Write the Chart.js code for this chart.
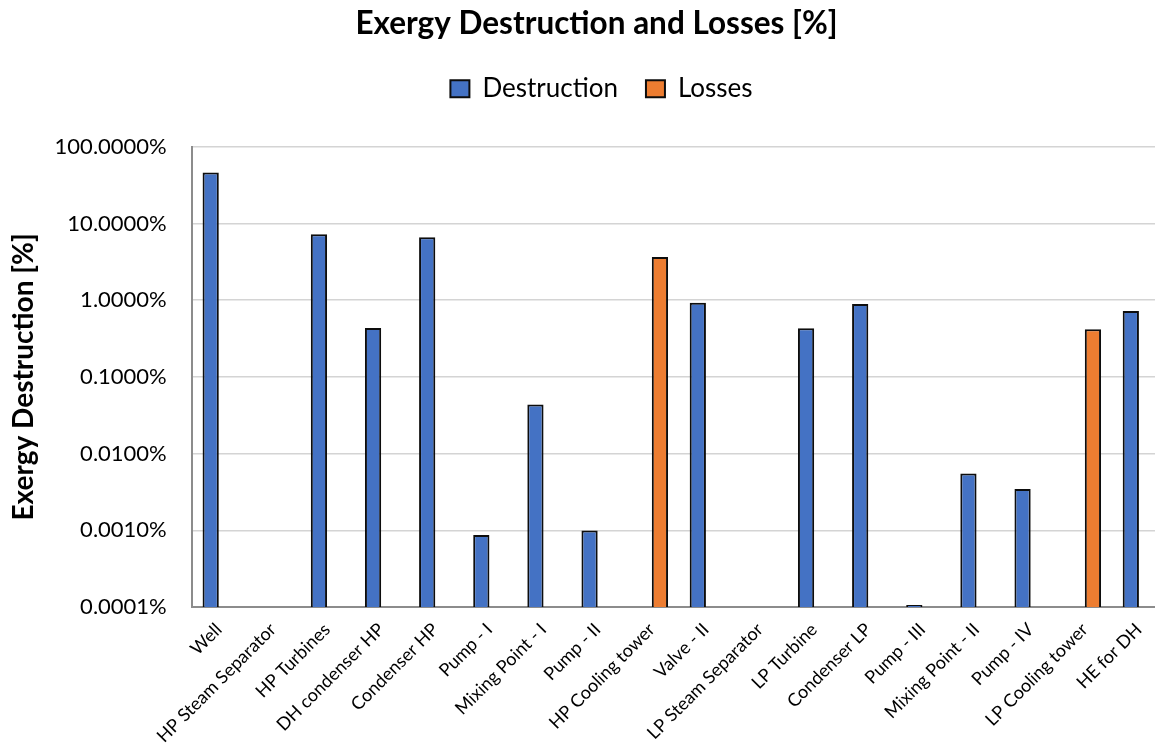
<!DOCTYPE html>
<html>
<head>
<meta charset="utf-8">
<title>Exergy Destruction and Losses</title>
<script src="https://cdn.jsdelivr.net/npm/chart.js@4.4.1/dist/chart.umd.min.js"></script>
<style>
  html, body { margin: 0; padding: 0; background: #ffffff; overflow: hidden; }
  #wrap { width: 1190px; height: 746px; }
</style>
</head>
<body>
<div id="wrap"><canvas id="chart" width="1190" height="746"></canvas></div>
<script>
// Plant components
const categories = [
  'Well', 'HP Steam Separator', 'HP Turbines', 'DH condenser HP', 'Condenser HP',
  'Pump - I', 'Mixing Point - I', 'Pump - II', 'HP Cooling tower', 'Valve - II',
  'LP Steam Separator', 'LP Turbine', 'Condenser LP', 'Pump - III', 'Mixing Point - II',
  'Pump - IV', 'LP Cooling tower', 'HE for DH'
];

// Exergy destruction per component [%]
const destruction = [
  46.1, null, 7.23, 0.435, 6.6,
  0.000865, 0.0436, 0.00099, null, 0.923,
  null, 0.43, 0.895, 0.000106, 0.00548,
  0.00345, null, 0.724
];

// Exergy losses per component [%]
const losses = [
  null, null, null, null, null,
  null, null, null, 3.65, null,
  null, null, null, null, null,
  null, 0.418, null
];

// Decade ticks of the log axis and their labels
const yTickValues = [0.0001, 0.001, 0.01, 0.1, 1, 10, 100];
const yTickLabels = ['0.0001%', '0.0010%', '0.0100%', '0.1000%', '1.0000%', '10.0000%', '100.0000%'];

const FONT = 'Lato, "Open Sans", sans-serif';

// Extra room under the legend, and a small horizontal nudge of the title and legend
const headerLayout = {
  id: 'headerLayout',
  afterInit(chart) {
    const legend = chart.legend;
    const baseFit = legend.fit;
    legend.fit = function () {
      baseFit.call(this);
      this.height += 35;
    };
  },
  afterLayout(chart) {
    const t = chart.titleBlock;
    if (t) { t.left += 10; t.right += 10; }
    const l = chart.legend;
    if (l) { l.left += 15; l.right += 15; }
  }
};

new Chart(document.getElementById('chart'), {
  type: 'bar',
  data: {
    labels: categories,
    datasets: [
      {
        label: 'Destruction',
        data: destruction,
        backgroundColor: '#4472C4',
        borderColor: '#0d0d0d',
        borderWidth: 2,
        categoryPercentage: 0.6,
        barPercentage: 1.0
      },
      {
        label: 'Losses',
        data: losses,
        backgroundColor: '#ED7D31',
        borderColor: '#0d0d0d',
        borderWidth: 2,
        categoryPercentage: 0.6,
        barPercentage: 1.0
      }
    ]
  },
  plugins: [headerLayout],
  options: {
    responsive: false,
    animation: false,
    layout: { padding: { left: 7, right: 24, top: 5, bottom: -5 } },
    plugins: {
      title: {
        display: true,
        text: 'Exergy Destruction and Losses [%]',
        color: '#000000',
        font: { family: FONT, size: 31.5, weight: 'bold' },
        padding: { top: 0, bottom: 5 }
      },
      legend: {
        position: 'top',
        labels: {
          color: '#000000',
          font: { family: FONT, size: 26 },
          boxWidth: 19,
          boxHeight: 17,
          padding: 28
        }
      },
      tooltip: { enabled: false }
    },
    scales: {
      x: {
        grid: { display: false },
        border: { display: true, color: '#8c8c8c', width: 2 },
        ticks: {
          color: '#000000',
          font: { family: FONT, size: 18 },
          minRotation: 45,
          maxRotation: 45,
          autoSkip: false,
          padding: 4
        }
      },
      y: {
        type: 'logarithmic',
        min: 0.0001,
        max: 100,
        afterBuildTicks: (axis) => {
          axis.ticks = yTickValues.map(v => ({ value: v }));
        },
        grid: { color: '#d4d4d4', lineWidth: 1.5, drawTicks: false },
        border: { display: true, color: '#8c8c8c', width: 2 },
        ticks: {
          color: '#000000',
          font: { family: FONT, size: 22 },
          padding: 25,
          callback: (value) => {
            const i = yTickValues.findIndex(v => Math.abs(Math.log10(v) - Math.log10(value)) < 1e-6);
            return i >= 0 ? yTickLabels[i] : '';
          }
        },
        title: {
          display: true,
          text: 'Exergy Destruction [%]',
          color: '#000000',
          font: { family: FONT, size: 28, weight: 'bold' },
          padding: { top: 0, bottom: -11 }
        }
      }
    }
  }
});
</script>
</body>
</html>
